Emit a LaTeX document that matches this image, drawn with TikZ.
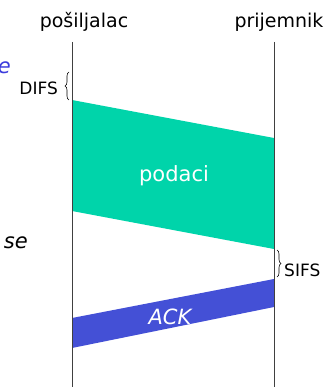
\documentclass[tikz,border=0pt]{standalone}
\usepackage{fontspec}
\setmainfont{DejaVu Sans}
\usetikzlibrary{decorations.pathreplacing}
\definecolor{datagreen}{RGB}{0,212,170}
\definecolor{ackblue}{RGB}{68,80,214}
\definecolor{txtblue}{RGB}{60,60,220}
\tikzset{
  lbl/.style={inner sep=0pt, font=\fontsize{19}{21}\selectfont},
  small/.style={inner sep=0pt, font=\fontsize{17}{19}\selectfont},
  timeline/.style={draw=black!75, line width=0.9pt},
  bracestyle/.style={draw, line width=0.6pt, decorate, decoration={brace, amplitude=4pt}},
}
\begin{document}
\begin{tikzpicture}[x=1pt,y=-1pt]
\useasboundingbox (0,0) rectangle (331,387);
% labels
\node[lbl] (snd) at (84,22) {pošiljalac};
\node[lbl] (rcv) at (279,22) {prijemnik};
% timelines
\coordinate (st) at (72,42);
\coordinate (sb) at (72,387);
\coordinate (rt) at (274,42);
\coordinate (rb) at (274,387);
% data frame
\fill[datagreen] (72,100) -- (274,138) -- (274,249) -- (72,211) -- cycle;
\node[inner sep=0pt, text=white, font=\fontsize{21}{23}\selectfont] (data) at (174,176) {podaci};
% ACK
\fill[ackblue] (274,279) -- (274,307) -- (72,348) -- (72,318) -- cycle;
\node[inner sep=0pt, text=white, font=\fontsize{21}{23}\selectfont\itshape] (ack) at (170,317) {ACK};
\draw[timeline] (st) -- (sb);
\draw[timeline] (rt) -- (rb);
% DIFS
\coordinate (d1) at (69,100);
\coordinate (d2) at (69,72);
\draw[bracestyle] (d1) -- (d2);
\node[small, anchor=east] (difs) at (58,88) {DIFS};
% SIFS
\coordinate (s1) at (277,250);
\coordinate (s2) at (277,277);
\draw[bracestyle] (s1) -- (s2);
\node[small, anchor=west] (sifs) at (284,270) {SIFS};
% cut-off texts at left edge
\node[inner sep=0pt, anchor=east, text=txtblue, font=\fontsize{21}{23}\selectfont\itshape] (e) at (11,68) {e};
\node[inner sep=0pt, anchor=east, font=\fontsize{21}{23}\selectfont\itshape] (se) at (28,243) {se};
\end{tikzpicture}
\end{document}
